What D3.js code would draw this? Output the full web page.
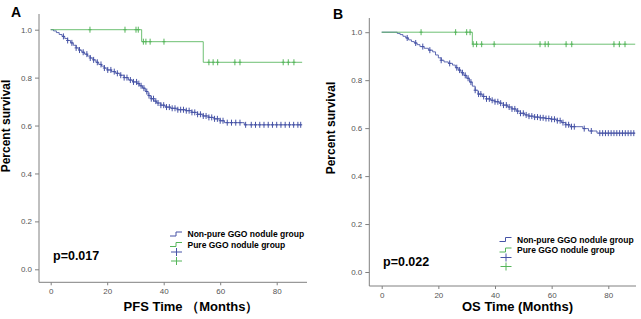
<!DOCTYPE html>
<html>
<head>
<meta charset="utf-8">
<script src="https://cdn.jsdelivr.net/npm/d3@7"></script>
<style>
  body { margin: 0; background: #fff; }
  svg { display: block; }
  .tick text { font-family: "Liberation Sans", Arial, sans-serif; font-size: 8px; fill: #555; }
  .domain, .tick line { stroke: #808080; }
</style>
</head>
<body>
<svg id="chart" width="641" height="319"></svg>
<script>
// ---- data ----
var yTicks = [0, 0.2, 0.4, 0.6, 0.8, 1.0];
var xTicks = [0, 20, 40, 60, 80];
var legendLabels = ["Non-pure GGO nodule group", "Pure GGO nodule group"];

// panel A (PFS): steps as [time, survival], last entry = end of follow-up
var pfsNonPure = [[0,1.0],[1,0.995],[2,0.988],[3,0.98],[4,0.972],[5,0.963],[6,0.955],[7,0.945],[8,0.935],
  [9,0.924],[10,0.915],[11,0.906],[12,0.898],[13,0.89],[14,0.882],[15,0.874],[16,0.864],[17,0.855],
  [18,0.848],[19,0.84],[20,0.832],[21.5,0.825],[23,0.818],[24.5,0.81],[26,0.8],[27.5,0.79],[29,0.782],
  [30.5,0.775],[31.5,0.766],[32.5,0.756],[33.5,0.742],[34.5,0.725],[35.5,0.712],[36.5,0.702],[37.5,0.694],
  [39,0.685],[40.5,0.677],[42.5,0.672],[45,0.666],[48,0.662],[50,0.655],[52,0.647],[54,0.64],[56,0.634],
  [58,0.628],[60,0.62],[61.5,0.612],[68.5,0.603],[88.8,0.603]];
var pfsNonPureCens = [4.5,6,7.5,9,10.2,11.5,12.8,14,15.2,16.5,17.8,19,20.2,21.3,22.5,23.6,24.8,26,27,28.2,
  29.3,30.4,31.2,32,33,34,34.8,35.6,36.4,37.2,38,39,40,41,42,43,44,45,46,47,48,49,50,51,52,53,54,55,56,57,
  58,59,60,61,62.5,64,65.5,67,69,71,72.5,74,75.5,77,78.5,80,81.5,83,84.5,86,87.5,88.5];
var pfsPure = [[0,1.0],[32.2,0.95],[54,0.864],[89,0.864]];
var pfsPureCens = [13.9,26.3,30.2,31,32.8,33.7,35.2,40.1,56,57.5,59.1,65.2,67,82.3,84.1,86.1];

// panel B (OS)
var osNonPure = [[0,1.0],[5.5,0.995],[6.5,0.99],[7.5,0.983],[8.5,0.976],[9.5,0.968],[10.5,0.961],[11.5,0.955],
  [12.5,0.948],[13.5,0.94],[15,0.933],[16.5,0.925],[18,0.918],[19,0.905],[20,0.893],[21,0.883],[22,0.876],
  [23.5,0.87],[25,0.863],[26,0.852],[27,0.842],[28,0.831],[29,0.82],[30,0.808],[31,0.792],[32,0.775],
  [33,0.758],[34,0.742],[35.5,0.732],[37,0.722],[38.5,0.716],[40,0.71],[41.5,0.704],[43,0.696],[44.5,0.688],
  [46,0.68],[47.5,0.671],[49,0.662],[50.5,0.655],[52,0.65],[54,0.646],[56,0.643],[58,0.64],[60,0.637],
  [62,0.631],[63.5,0.623],[65,0.614],[66.5,0.606],[71,0.598],[73,0.588],[76,0.579],[89.4,0.579]];
var osNonPureCens = [9,12,14.5,17,21,24,26.5,27.5,28.5,29.5,30.5,31.5,33,34.2,35,36,37,38,39,40,41,42,43,44,
  45,46,47,48,49,50,51,52,53,54,55,56,57,58,59,60,61,62,63,64,65,66,67,68,71.5,74,77,78,79,80,81,82,83,84,
  85,86,87,88,89];
var osPure = [[0,1.0],[32,0.95],[89.5,0.95]];
var osPureCens = [13.9,26.1,30,31.2,32.3,33.5,35.3,39.7,55.9,57.7,58.8,65.1,67.1,82,83.9,85.9];

var blue = "#4653a6", green = "#55b55a";
var font = "Liberation Sans, Arial, sans-serif";

var panels = [
  { letter: "A", x0: 50.7, x80: 276.7, y0: 269.3, y1: 29.7, axisLeft: 39, axisRight: 307, axisTop: 14, axisBottom: 282.3,
    xLabel: "PFS Time \uFF08Months\uFF09", xlabX: 191, p: "p=0.017", pX: 53, pY: 260, legX: 170, legY: 234,
    letterX: 11, letterY: 17, ylabX: 10, ylabY: 126,
    series: [{ steps: pfsNonPure, cens: pfsNonPureCens, color: blue },
             { steps: pfsPure, cens: pfsPureCens, color: green }] },
  { letter: "B", x0: 381.7, x80: 608.3, y0: 272, y1: 32.2, axisLeft: 369.3, axisRight: 636, axisTop: 18, axisBottom: 286,
    xLabel: "OS Time (Months)", xlabX: 517.5, p: "p=0.022", pX: 383, pY: 266, legX: 499.5, legY: 239.5,
    letterX: 333, letterY: 18.5, ylabX: 335, ylabY: 128,
    series: [{ steps: osNonPure, cens: osNonPureCens, color: blue },
             { steps: osPure, cens: osPureCens, color: green }] }
];

var svg = d3.select("#chart");

function survAt(steps, t) {
  var s = steps[0][1];
  for (var i = 0; i < steps.length; i++) {
    if (steps[i][0] <= t) s = steps[i][1];
  }
  return s;
}

panels.forEach(function (pn) {
  var x = d3.scaleLinear().domain([0, 80]).range([pn.x0, pn.x80]);
  var y = d3.scaleLinear().domain([0, 1]).range([pn.y0, pn.y1]);
  var g = svg.append("g");

  // axes
  var xAxis = d3.axisBottom(x).tickValues(xTicks).tickSize(3).tickSizeOuter(0);
  var gx = g.append("g").attr("transform", "translate(0," + pn.axisBottom + ")").call(xAxis);
  gx.select(".domain").attr("d", "M" + pn.axisLeft + ",0H" + pn.axisRight);

  var yAxis = d3.axisLeft(y).tickValues(yTicks).tickFormat(d3.format(".1f")).tickSize(4).tickSizeOuter(0);
  var gy = g.append("g").attr("transform", "translate(" + pn.axisLeft + ",0)").call(yAxis);
  gy.select(".domain").attr("d", "M0," + pn.axisTop + "V" + pn.axisBottom);

  // curves
  var line = d3.line().x(function (d) { return x(d[0]); }).y(function (d) { return y(d[1]); }).curve(d3.curveStepAfter);
  pn.series.forEach(function (s) {
    g.append("path").attr("d", line(s.steps)).attr("fill", "none")
      .attr("stroke", s.color).attr("stroke-width", 1).attr("opacity", 0.85);
    g.selectAll(null).data(s.cens).enter().append("path")
      .attr("d", function (t) {
        var cx = x(t), cy = y(survAt(s.steps, t));
        return "M" + cx + "," + (cy - 3) + "V" + (cy + 3) + "M" + (cx - 1.5) + "," + cy + "H" + (cx + 1.5);
      })
      .attr("stroke", s.color).attr("stroke-width", 1).attr("fill", "none");
  });

  // texts
  g.append("text").attr("x", pn.letterX).attr("y", pn.letterY).text(pn.letter)
    .attr("font-family", font).attr("font-weight", "bold").attr("font-size", 14);
  g.append("text").attr("transform", "translate(" + pn.ylabX + "," + pn.ylabY + ") rotate(-90)")
    .attr("text-anchor", "middle").text("Percent survival")
    .attr("font-family", font).attr("font-weight", "bold").attr("font-size", 12);
  g.append("text").attr("x", pn.xlabX).attr("y", 311).attr("text-anchor", "middle")
    .text(pn.xLabel).attr("font-family", font).attr("font-weight", "bold").attr("font-size", 13);
  g.append("text").attr("x", pn.pX).attr("y", pn.pY).text(pn.p)
    .attr("font-family", font).attr("font-weight", "bold").attr("font-size", 12.5);

  // legend
  var lg = g.append("g").attr("transform", "translate(" + pn.legX + "," + pn.legY + ")");
  legendLabels.forEach(function (lab, i) {
    var yy = i * 10.5;
    lg.append("path").attr("d", "M0," + (yy + 2) + "H6V" + (yy - 2) + "H12")
      .attr("stroke", pn.series[i].color).attr("fill", "none").attr("stroke-width", 1);
    lg.append("text").attr("x", 17.5).attr("y", yy + 3).text(lab)
      .attr("font-family", font).attr("font-weight", "bold").attr("font-size", 8.5);
  });
  [0, 1].forEach(function (i) {
    var yy = 18 + i * 9;
    lg.append("path").attr("d", "M1," + yy + "H12M6.5," + (yy - 4) + "V" + (yy + 4))
      .attr("stroke", pn.series[i].color).attr("fill", "none").attr("stroke-width", 1);
  });
});
</script>
</body>
</html>
